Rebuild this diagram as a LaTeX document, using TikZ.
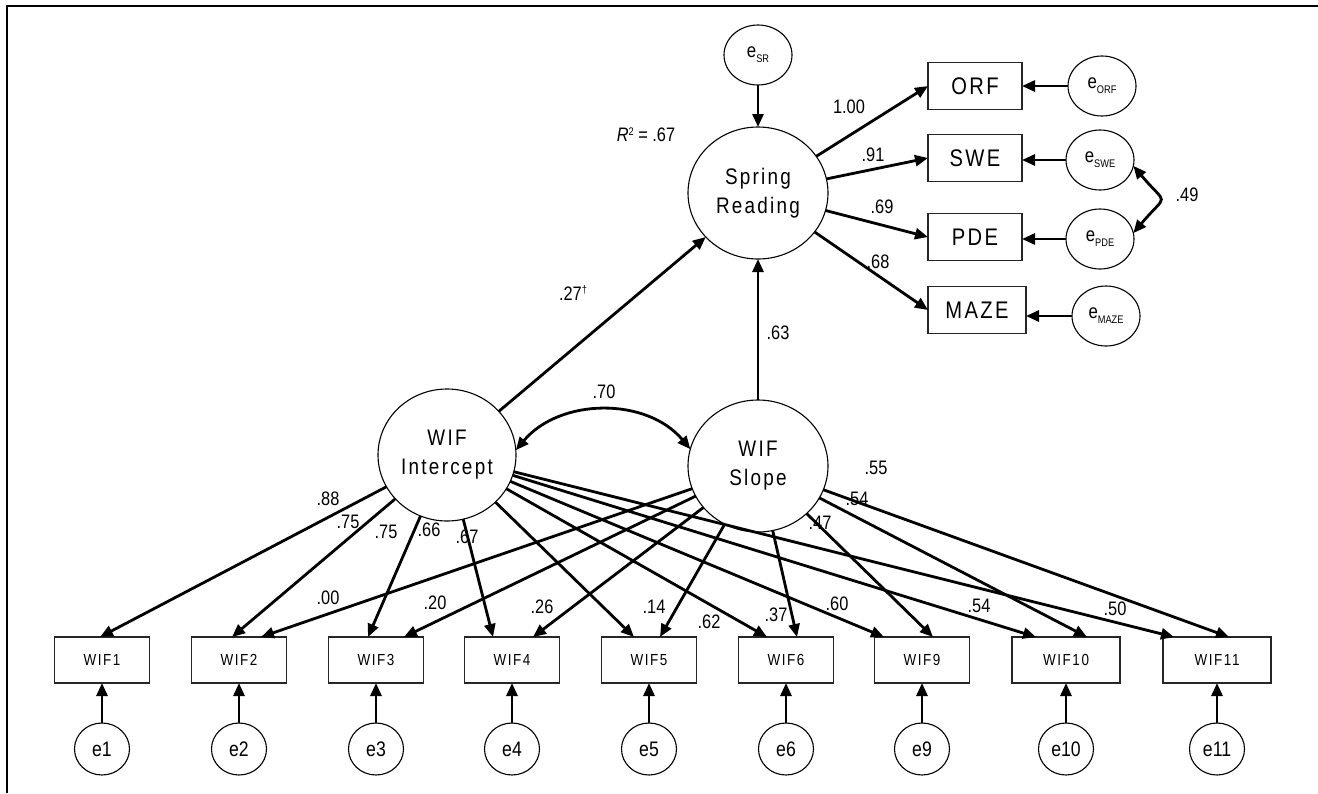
\documentclass[tikz,border=0pt]{standalone}
\usepackage{fontspec}
\setmainfont{Liberation Sans}
\newfontfamily\narrow[FakeStretch=0.84]{Liberation Sans}
\newfontfamily\spaced[FakeStretch=0.84,LetterSpace=10]{Liberation Sans}
\usetikzlibrary{shapes.geometric,arrows.meta,calc}

% residual label with a small lowered subscript
\newcommand\esub[1]{e\raisebox{-5pt}{\fontsize{11}{11}\selectfont #1}}

\tikzset{
  every node/.style={inner sep=0pt, outer sep=0pt},
  latent/.style={ellipse, draw, line width=1.1pt, minimum width=140pt, minimum height=132pt,
    align=center, font=\spaced\fontsize{22.5}{29}\selectfont},
  measure/.style={rectangle, draw=black!85, line width=1.2pt, minimum height=47pt,
    minimum width=94pt, font=\spaced\fontsize{24}{24}\selectfont},
  item/.style={rectangle, draw=black!85, line width=1.2pt, minimum height=46pt,
    minimum width=95pt, font=\spaced\fontsize{16}{16}\selectfont},
  resid/.style={ellipse, draw, line width=1.1pt, minimum width=55pt, minimum height=52pt,
    font=\narrow\fontsize{21}{21}\selectfont},
  bigresid/.style={ellipse, draw, line width=1.1pt, minimum width=68pt, minimum height=60pt,
    font=\narrow\fontsize{20}{20}\selectfont},
  effect/.style={line width=2.8pt, -{Triangle[length=13pt,width=11pt]}},
  covar/.style={line width=2.8pt, {Triangle[length=13pt,width=11pt]}-{Triangle[length=13pt,width=11pt]}},
  coef/.style={font=\narrow\fontsize{19.5}{19.5}\selectfont},
}

\begin{document}
\begin{tikzpicture}[x=1pt,y=1pt]
\useasboundingbox (0,0) rectangle (1318,-793);
\draw[line width=2pt] (7,-793) -- (7,-6) -- (1318,-6);

% latent factors
\node[latent] (sr) at (758,-193) {Spring\\Reading};
\node[latent, minimum width=138pt] (int) at (447,-455) {WIF\\Intercept};
\node[latent] (slope) at (758,-466) {WIF\\Slope};

% spring reading indicators and their residuals
\node[bigresid] (esr) at (758,-55) {\esub{SR}};
\node[measure] (orf) at (975,-86) {ORF};
\node[measure] (swe) at (975,-158) {SWE};
\node[measure] (pde) at (975,-237) {PDE};
\node[measure, minimum width=98pt] (maze) at (977,-310) {MAZE};
\node[bigresid] (eorf) at (1102,-86) {\esub{ORF}};
\node[bigresid] (eswe) at (1100,-160) {\esub{SWE}};
\node[bigresid] (epde) at (1100,-239) {\esub{PDE}};
\node[bigresid] (emaze) at (1106,-316) {\esub{MAZE}};

\draw[effect] (esr) -- (sr);
\draw[effect] (sr) -- (orf.west);
\draw[effect] (sr) -- (swe.west);
\draw[effect] (sr) -- (pde.west);
\draw[effect] (sr) -- (maze.west);
\draw[effect] (eorf.west) -- (eorf.west -| orf.east);
\draw[effect] (eswe.west) -- (eswe.west -| swe.east);
\draw[effect] (epde.west) -- (epde.west -| pde.east);
\draw[effect] (emaze.west) -- (emaze.west -| maze.east);
\draw[covar] (eswe.-10) to[out=-50,in=50,distance=54pt] (epde.10);

% structural paths
\draw[effect] (int) -- (sr);
\draw[effect] (slope) -- (sr);
\draw[covar] (int.4) to[out=50,in=130] (slope.166);

% WIF probes with residuals
\foreach \n/\x/\w in {1/102/95, 2/239/95, 3/376/95, 4/512/95, 5/649/95,
                      6/786/95, 9/922/95, 10/1066/108, 11/1217/108} {
  \node[item, minimum width=\w pt] (w\n) at (\x,-660) {WIF\n};
  \node[resid] (e\n) at (\x,-749) {e\n};
  \draw[effect] (e\n) -- (w\n);
}

% growth loadings
\foreach \n/\a in {1/-2, 2/-7, 3/-8, 4/-19, 5/-15, 6/-19, 9/-38, 10/-30, 11/-43}
  \draw[effect] (int) -- ([xshift=\a pt]w\n.north);
\foreach \n/\a in {2/22, 3/28, 4/21, 5/11, 6/11, 9/11, 10/21, 11/12}
  \draw[effect] (slope) -- ([xshift=\a pt]w\n.north);

% coefficients
\begin{scope}[every node/.append style={coef}]
\node (r2) at (646,-135) {{\itshape R}\raisebox{6pt}{\fontsize{11}{11}\selectfont 2} = .67};
\node (c-orf) at (849,-107) {1.00};
\node (c-swe) at (873,-155) {.91};
\node (c-pde) at (882,-207) {.69};
\node (c-maze) at (878,-262) {.68};
\node (c-res) at (1187,-195) {.49};
\node (c-int) at (573,-293) {.27\raisebox{7pt}{\fontsize{11}{11}\selectfont †}};
\node (c-slope) at (778,-333) {.63};
\node (c-cov) at (604,-392) {.70};
\node (i1) at (328,-499) {.88};
\node (i2) at (348,-522) {.75};
\node (i3) at (386,-532) {.75};
\node (i4) at (429,-530) {.66};
\node (i5) at (467,-537) {.67};
\node (i6) at (709,-622) {.62};
\node (i9) at (837,-604) {.60};
\node (i10) at (979,-606) {.54};
\node (i11) at (1115,-609) {.50};
\node (s2) at (328,-598) {.00};
\node (s3) at (435,-603) {.20};
\node (s4) at (542,-607) {.26};
\node (s5) at (654,-607) {.14};
\node (s6) at (776,-615) {.37};
\node (s9) at (820,-523) {.47};
\node (s10) at (857,-499) {.54};
\node (s11) at (876,-468) {.55};
\end{scope}
\end{tikzpicture}
\end{document}
